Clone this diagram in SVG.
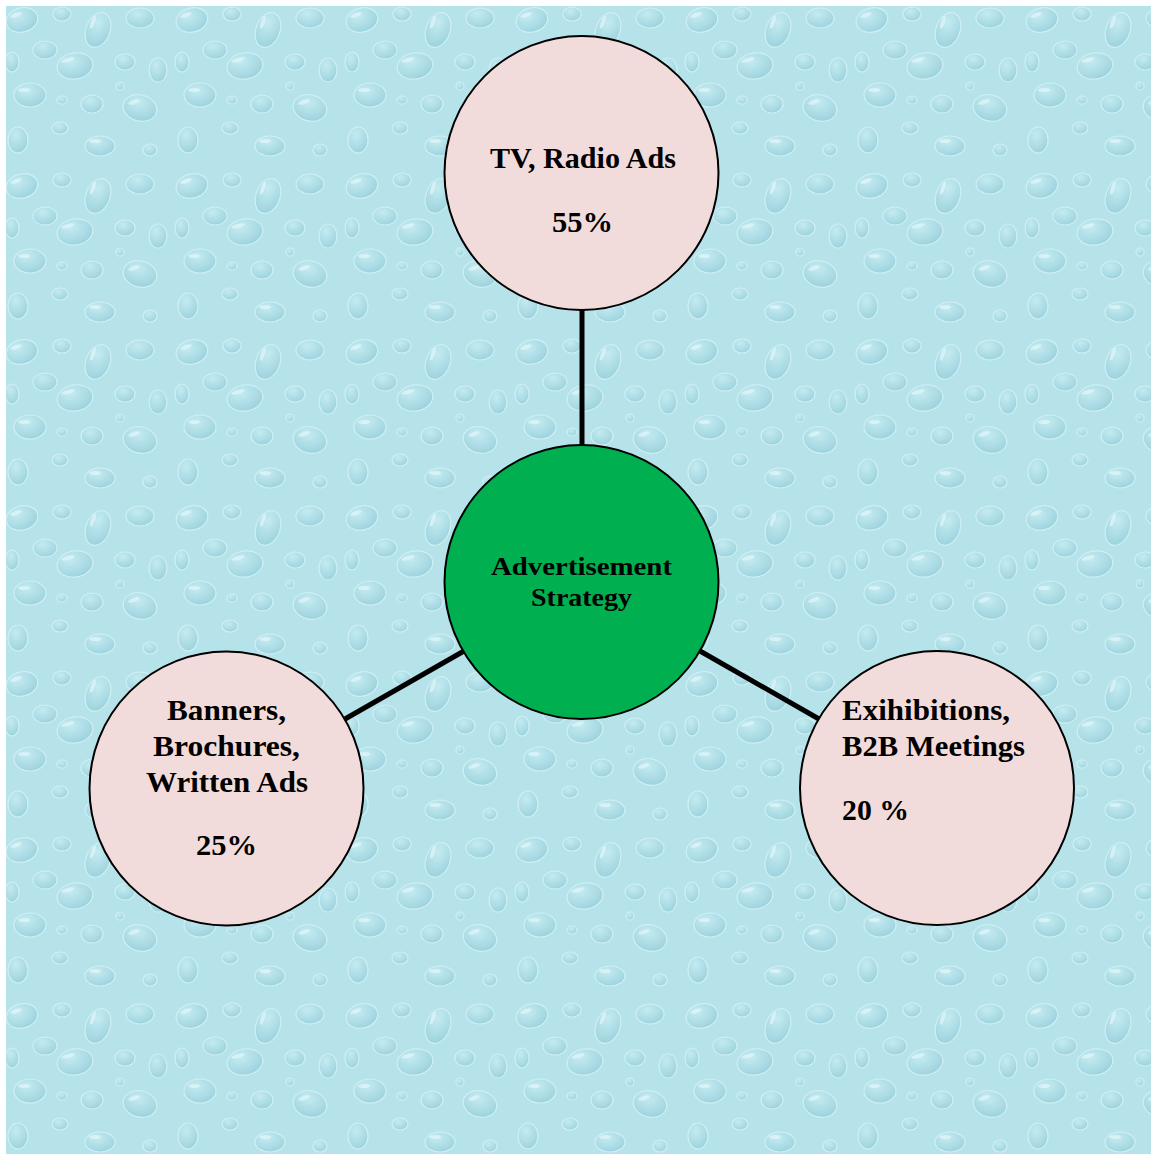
<svg xmlns="http://www.w3.org/2000/svg" width="1151" height="1154" viewBox="0 0 1151 1154">
  <defs>
    <radialGradient id="drop" cx="0.4" cy="0.3" r="0.75">
      <stop offset="0" stop-color="#c6ecf2"/>
      <stop offset="0.7" stop-color="#a6d8e2"/>
      <stop offset="1" stop-color="#93cdd9"/>
    </radialGradient>
    <pattern id="water" patternUnits="userSpaceOnUse" width="170" height="166">
      <rect width="170" height="166" fill="#b6e3ea"/>
      <g fill="url(#drop)" stroke="#d3f1f5" stroke-width="1.2" opacity="0.85">
        <ellipse cx="22" cy="20" rx="16" ry="12" transform="rotate(-15 22 20)"/>
        <ellipse cx="62" cy="14" rx="9" ry="7"/>
        <ellipse cx="98" cy="30" rx="12" ry="18" transform="rotate(20 98 30)"/>
        <ellipse cx="140" cy="18" rx="14" ry="10"/>
        <ellipse cx="45" cy="50" rx="12" ry="9"/>
        <ellipse cx="12" cy="62" rx="7" ry="10"/>
        <ellipse cx="75" cy="66" rx="18" ry="13" transform="rotate(-10 75 66)"/>
        <ellipse cx="125" cy="62" rx="10" ry="8"/>
        <ellipse cx="158" cy="70" rx="9" ry="12"/>
        <ellipse cx="30" cy="95" rx="16" ry="12"/>
        <ellipse cx="92" cy="104" rx="11" ry="9"/>
        <ellipse cx="140" cy="108" rx="17" ry="13" transform="rotate(15 140 108)"/>
        <ellipse cx="60" cy="128" rx="8" ry="6"/>
        <ellipse cx="18" cy="140" rx="10" ry="13"/>
        <ellipse cx="100" cy="146" rx="15" ry="10"/>
        <ellipse cx="150" cy="150" rx="7" ry="6"/>
        <ellipse cx="62" cy="100" rx="5" ry="4"/>
        <ellipse cx="120" cy="86" rx="4" ry="4"/>
      </g>
      <g fill="#e2f6f9" opacity="0.7">
        <ellipse cx="16" cy="15" rx="6" ry="2" transform="rotate(-20 16 15)"/>
        <ellipse cx="93" cy="22" rx="2" ry="7" transform="rotate(20 93 22)"/>
        <ellipse cx="68" cy="60" rx="7" ry="2" transform="rotate(-15 68 60)"/>
        <ellipse cx="24" cy="90" rx="6" ry="2"/>
        <ellipse cx="134" cy="102" rx="6" ry="2" transform="rotate(-20 134 102)"/>
        <ellipse cx="95" cy="141" rx="6" ry="2"/>
      </g>
    </pattern>
    <style>
      .node { stroke: #000; stroke-width: 2; }
      .outer { fill: #f2dcdb; }
      .hub { fill: #00b050; }
      .conn { stroke: #000; stroke-width: 5; fill: none; }
      text { font-family: "Liberation Serif", "Times New Roman", serif; font-weight: bold; fill: #000; }
      .big { font-size: 29px; }
      .mid { font-size: 25px; }
    </style>
  </defs>
  <rect width="1151" height="1154" fill="#ffffff"/>
  <rect x="6" y="6" width="1145" height="1148" fill="url(#water)"/>

  <g id="connectors">
    <line class="conn" x1="582" y1="310" x2="582" y2="446"/>
    <line class="conn" x1="345" y1="719" x2="464" y2="651"/>
    <line class="conn" x1="700" y1="651" x2="819" y2="719"/>
  </g>

  <g id="node-tv">
    <circle class="node outer" cx="581.5" cy="173" r="137"/>
    <text class="big" x="490" y="168" textLength="186" lengthAdjust="spacingAndGlyphs">TV, Radio Ads</text>
    <text class="big" x="552" y="232" textLength="61" lengthAdjust="spacingAndGlyphs">55%</text>
  </g>

  <g id="node-hub">
    <circle class="node hub" cx="581.5" cy="582" r="137"/>
    <text class="mid" x="491" y="575" textLength="181" lengthAdjust="spacingAndGlyphs">Advertisement</text>
    <text class="mid" x="531" y="606" textLength="101" lengthAdjust="spacingAndGlyphs">Strategy</text>
  </g>

  <g id="node-banners">
    <circle class="node outer" cx="226.5" cy="788.5" r="137"/>
    <text class="big" x="167" y="720" textLength="119" lengthAdjust="spacingAndGlyphs">Banners,</text>
    <text class="big" x="153" y="756" textLength="147" lengthAdjust="spacingAndGlyphs">Brochures,</text>
    <text class="big" x="146" y="792" textLength="162" lengthAdjust="spacingAndGlyphs">Written Ads</text>
    <text class="big" x="196" y="855" textLength="61" lengthAdjust="spacingAndGlyphs">25%</text>
  </g>

  <g id="node-exhibitions">
    <circle class="node outer" cx="937" cy="788" r="137"/>
    <text class="big" x="842" y="720" textLength="168" lengthAdjust="spacingAndGlyphs">Exihibitions,</text>
    <text class="big" x="842" y="756" textLength="183" lengthAdjust="spacingAndGlyphs">B2B Meetings</text>
    <text class="big" x="842" y="820" textLength="67" lengthAdjust="spacingAndGlyphs">20 %</text>
  </g>
</svg>
